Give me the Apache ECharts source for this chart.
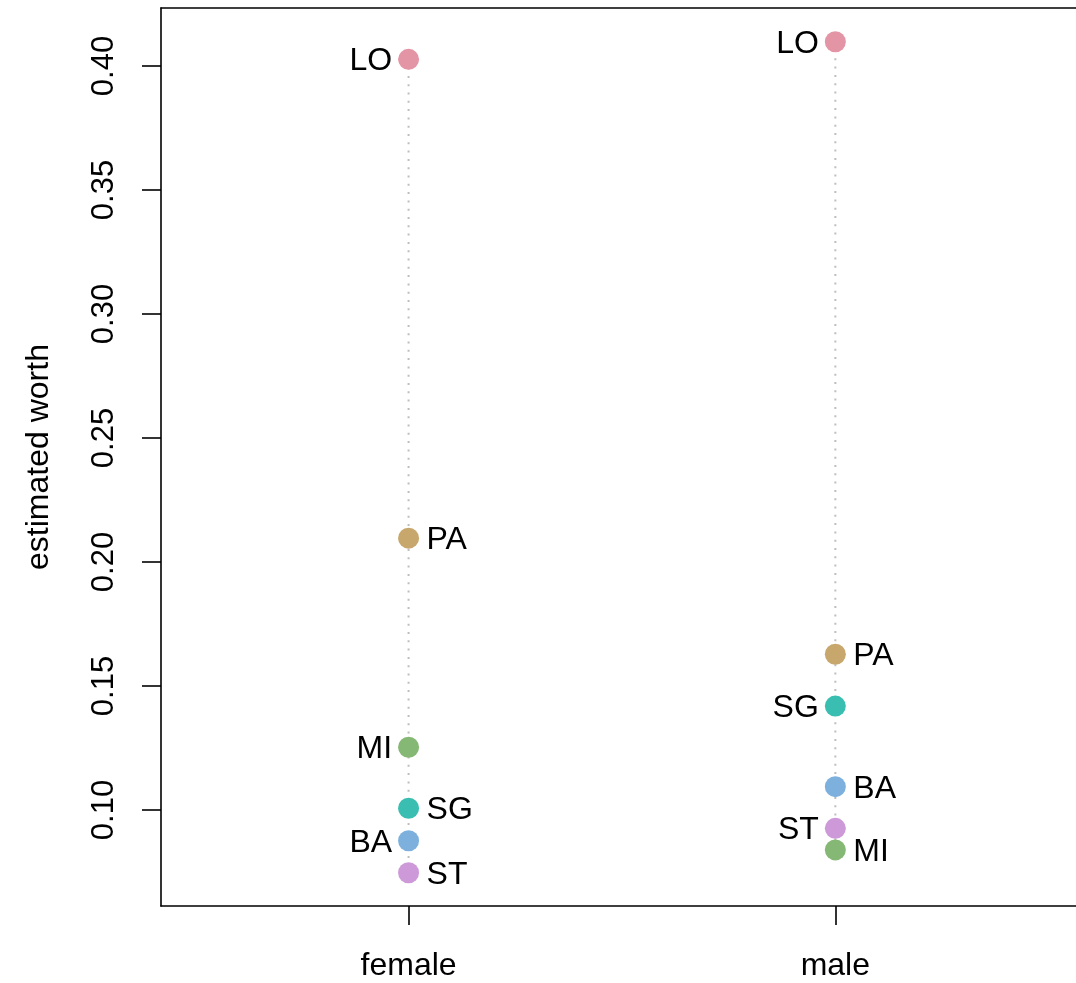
<!DOCTYPE html>
<html>
<head>
<meta charset="utf-8">
<script src="https://cdn.jsdelivr.net/npm/echarts@6/dist/echarts.min.js"></script>
<style>
html,body{margin:0;padding:0;background:#fff;}
#chart{width:1076px;height:983px;}
</style>
</head>
<body>
<div id="chart"></div>
<script>
// ---- data ----
const categories = ['female', 'male'];
const teams = ['LO', 'PA', 'MI', 'SG', 'BA', 'ST'];
const femaleWorth = [0.4027, 0.2096, 0.1253, 0.1007, 0.0876, 0.0747];
const maleWorth   = [0.4098, 0.1628, 0.0839, 0.1419, 0.1094, 0.0926];
const yTicks = [0.10, 0.15, 0.20, 0.25, 0.30, 0.35, 0.40];
const yTitle = 'estimated worth';

// ---- styles ----
const teamColors = ['#E495A5', '#C7A76C', '#86B875', '#39BEB1', '#7DB0DD', '#CD99D8'];
const FONT = '"Liberation Sans", Arial, Helvetica, sans-serif';
const FS = 32;
const FS_NUM = 31;
const X_MIN = 0.4199, X_MAX = 2.5639;
const frame = { show: true, lineStyle: { color: '#000', width: 1.6 } };

const groups = [femaleWorth, maleWorth];
const series = [];

// dotted guide lines from min to max of each category
groups.forEach((vals, gi) => {
  const x = gi + 1;
  series.push({
    type: 'line',
    data: [[x, Math.max(...vals)], [x, Math.min(...vals)]],
    symbol: 'none',
    silent: true,
    z: 1,
    lineStyle: { color: '#BEBEBE', width: 2, type: [2, 6.3], cap: 'butt' },
    animation: false
  });
});

// points with labels alternating left/right by rank
groups.forEach((vals, gi) => {
  const x = gi + 1;
  const order = vals.map((v, i) => i).sort((a, b) => vals[b] - vals[a]);
  const side = {};
  order.forEach((idx, r) => { side[idx] = r % 2 === 0 ? 'left' : 'right'; });
  series.push({
    type: 'scatter',
    symbol: 'circle',
    symbolSize: 21,
    z: 3,
    animation: false,
    data: vals.map((v, i) => ({
      value: [x, v],
      name: teams[i],
      itemStyle: { color: teamColors[i], opacity: 1 },
      label: {
        show: true,
        position: side[i],
        distance: side[i] === 'left' ? 6 : 7.5,
        offset: [0, 2],
        formatter: teams[i],
        color: '#000',
        fontFamily: FONT,
        fontSize: FS
      }
    }))
  });
});

const chart = echarts.init(document.getElementById('chart'), null, { renderer: 'canvas' });
chart.setOption({
  backgroundColor: '#fff',
  animation: false,
  grid: { left: 161, top: 8, bottom: 77, right: 0, show: false },
  xAxis: [{
    type: 'value',
    min: X_MIN, max: X_MAX,
    position: 'bottom',
    splitLine: { show: false },
    axisLine: frame,
    axisTick: {
      show: true, length: 19, customValues: [1, 2],
      lineStyle: { color: '#000', width: 1.6 }
    },
    axisLabel: {
      show: true, customValues: [1, 2], margin: 44,
      formatter: v => categories[Math.round(v) - 1],
      color: '#000', fontFamily: FONT, fontSize: FS
    }
  }, {
    type: 'value',
    min: X_MIN, max: X_MAX,
    position: 'top',
    splitLine: { show: false },
    axisLine: frame,
    axisTick: { show: false },
    axisLabel: { show: false }
  }],
  yAxis: {
    type: 'value',
    min: 0.06129, max: 0.42339,
    name: yTitle,
    nameLocation: 'middle',
    nameRotate: 90,
    nameGap: 106,
    nameTextStyle: { color: '#000', fontFamily: FONT, fontSize: FS },
    splitLine: { show: false },
    axisLine: frame,
    axisTick: {
      show: true, length: 19, customValues: yTicks,
      lineStyle: { color: '#000', width: 1.6 }
    },
    axisLabel: {
      show: true, customValues: yTicks, rotate: 90, margin: 41,
      formatter: v => v.toFixed(2),
      color: '#000', fontFamily: FONT, fontSize: FS_NUM
    }
  },
  series: series
});
</script>
</body>
</html>
